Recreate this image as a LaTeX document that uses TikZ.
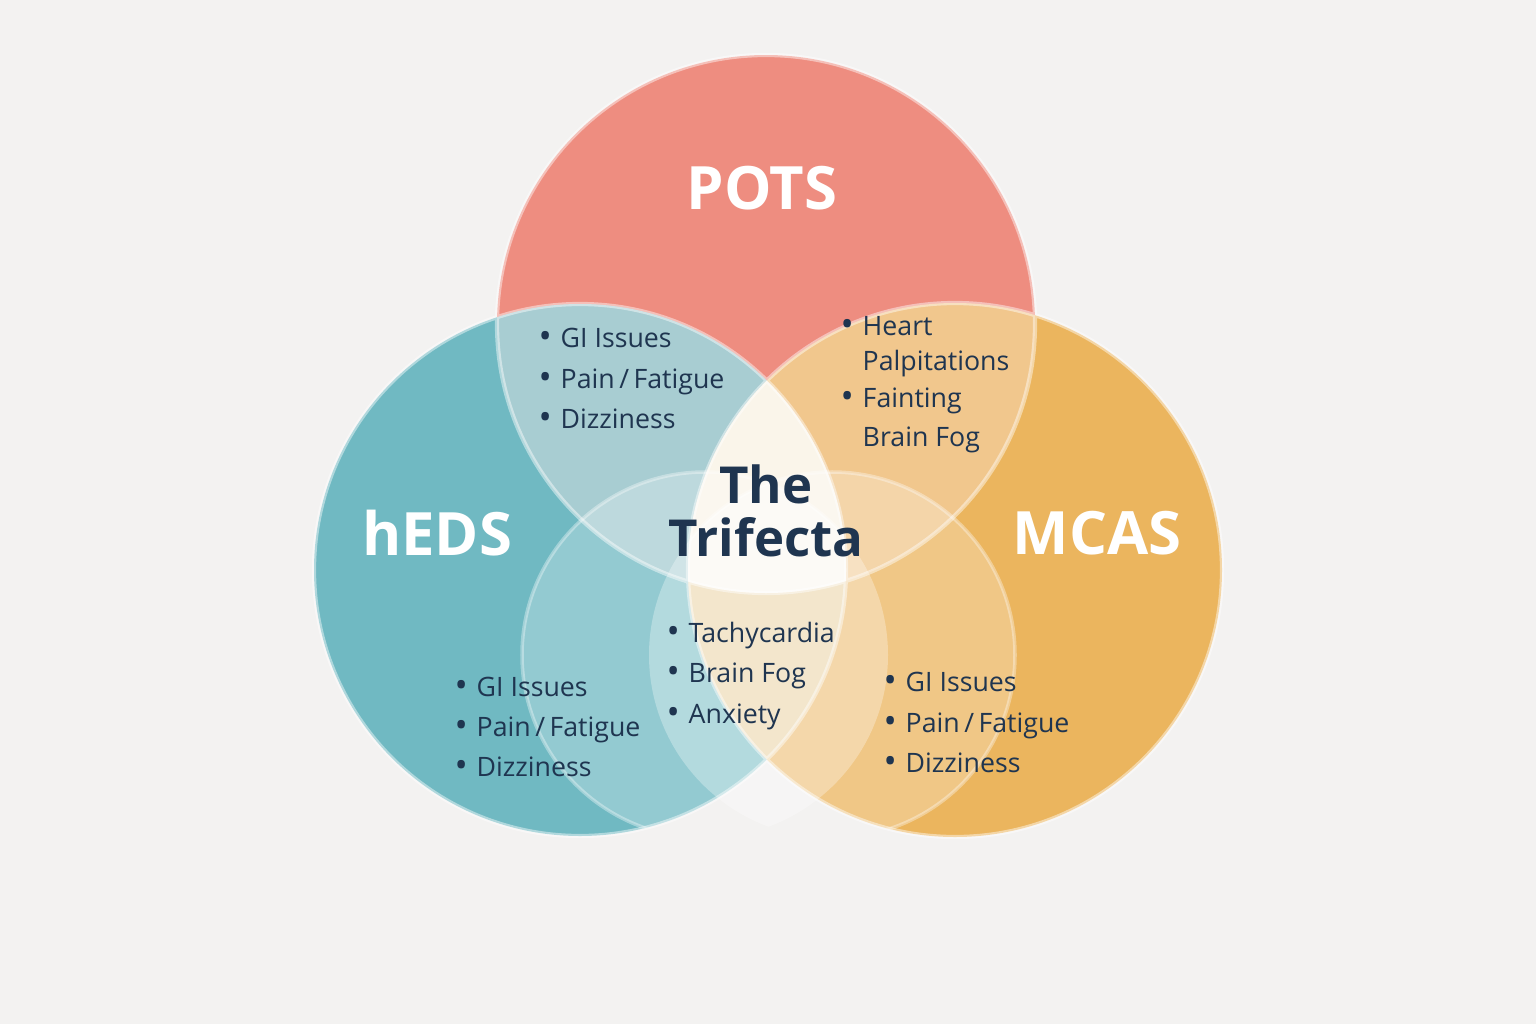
\documentclass[tikz,border=0pt]{standalone}
\usepackage{fontspec}
\setmainfont{Open Sans}
\begin{document}
\begin{tikzpicture}[x=0.01cm,y=-0.01cm,
  lbl/.style={font=\fontsize{17}{20}\selectfont\bfseries,text=white},
  item/.style={font=\fontsize{7.6}{9}\selectfont,text=navy,anchor=base west,inner sep=0},
  ring/.style={draw=white,draw opacity=0.45,line width=1.2pt}]
\definecolor{navy}{HTML}{1F3550}
\definecolor{potsc}{HTML}{EE887A}
\definecolor{hedsc}{HTML}{5EB2BC}
\definecolor{mcasc}{HTML}{EBAD4A}
\definecolor{bg}{HTML}{F3F2F1}
\newcommand{\bul}{{\fontsize{10}{9}\selectfont\raisebox{-0.4pt}{•}}\hspace{2.5pt}}
\newcommand{\nob}{\phantom{\bul}}
\fill[bg] (0,0) rectangle (1536,1024);
\useasboundingbox (0,0) rectangle (1536,1024);
\coordinate (P) at (766,324);
\coordinate (H) at (580,570);
\coordinate (M) at (955,570);
\fill[potsc,opacity=0.95] (P) circle (269);
\fill[hedsc,opacity=0.88] (H) circle (266);
\fill[mcasc,opacity=0.88] (M) circle (267);
% pairwise overlaps
\begin{scope}\clip (P) circle (269); \fill[white,opacity=0.4] (H) circle (266); \fill[white,opacity=0.35] (M) circle (267);\end{scope}
\begin{scope}\clip (H) circle (266); \fill[white,opacity=0.25] (M) circle (267);\end{scope}
% inner lighter circles
\begin{scope}\clip (H) circle (266); \fill[white,opacity=0.25] (705,655) circle (183);
  \draw[white,opacity=0.35,line width=1pt] (705,655) circle (183);\end{scope}
\begin{scope}\clip (M) circle (267); \fill[white,opacity=0.25] (832,655) circle (183);
  \draw[white,opacity=0.35,line width=1pt] (832,655) circle (183);\end{scope}
% centre
\begin{scope}\clip (P) circle (269); \clip (H) circle (266); \clip (M) circle (267);
  \fill[white,opacity=0.6] (0,0) rectangle (1536,1024);\end{scope}
\begin{scope}\clip (705,655) circle (183); \clip (832,655) circle (183);
  \fill[white,opacity=0.3] (0,0) rectangle (1536,1024);\end{scope}
\draw[ring] (P) circle (269) (H) circle (266) (M) circle (267);
\node[lbl] (pots) at (762,188) {POTS};
\node[lbl] (heds) at (437,533) {hEDS};
\node[lbl] (mcas) at (1097,533) {MCAS};
\node[font=\fontsize{14.5}{15}\selectfont\bfseries,text=navy,align=center] (tri) at (766,511) {The\\Trifecta};
\foreach \x/\y/\t [count=\i] in {
  538/347/{\bul GI Issues}, 538/388/{\bul Pain\,/\,Fatigue}, 538/428/{\bul Dizziness},
  840/335/{\bul Heart}, 840/370/{\nob Palpitations}, 840/407/{\bul Fainting}, 840/446/{\nob Brain Fog},
  666/642/{\bul Tachycardia}, 666/682/{\bul Brain Fog}, 666/723/{\bul Anxiety},
  454/696/{\bul GI Issues}, 454/736/{\bul Pain\,/\,Fatigue}, 454/776/{\bul Dizziness},
  883/691/{\bul GI Issues}, 883/732/{\bul Pain\,/\,Fatigue}, 883/772/{\bul Dizziness}}
  \node[item] (t\i) at (\x,\y) {\t};
\end{tikzpicture}
\end{document}
